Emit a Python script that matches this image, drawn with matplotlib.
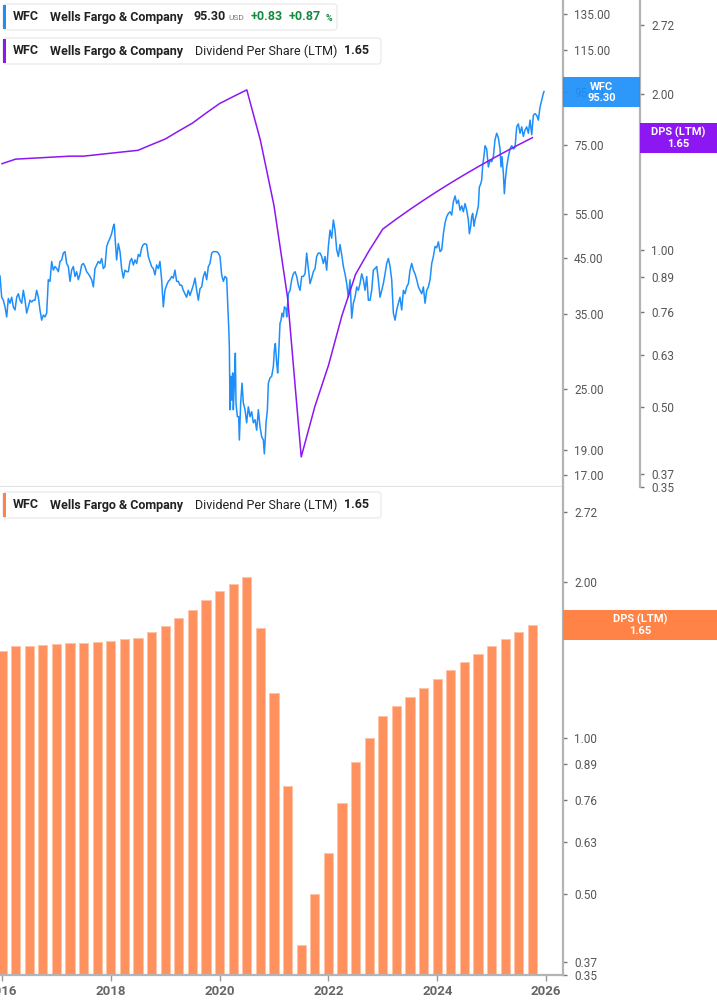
import matplotlib
matplotlib.use("Agg")
import matplotlib.pyplot as plt
from matplotlib.patches import FancyBboxPatch, Rectangle
from matplotlib.ticker import FixedLocator, FuncFormatter, NullLocator
from matplotlib.transforms import Affine2D

plt.rcParams["font.family"] = ["Roboto", "DejaVu Sans"]

# WFC daily close (adjusted)
price_dates = [
    2015.963, 2015.994, 2016.024, 2016.055, 2016.086, 2016.116, 2016.147, 2016.178, 2016.208, 2016.239,
    2016.270, 2016.300, 2016.331, 2016.362, 2016.392, 2016.423, 2016.453, 2016.484, 2016.515, 2016.545,
    2016.576, 2016.606, 2016.637, 2016.668, 2016.698, 2016.729, 2016.760, 2016.790, 2016.821, 2016.851,
    2016.882, 2016.913, 2016.943, 2016.974, 2017.005, 2017.035, 2017.066, 2017.097, 2017.127, 2017.158,
    2017.188, 2017.219, 2017.250, 2017.280, 2017.311, 2017.342, 2017.372, 2017.403, 2017.434, 2017.464,
    2017.495, 2017.525, 2017.556, 2017.587, 2017.617, 2017.648, 2017.679, 2017.709, 2017.740, 2017.770,
    2017.801, 2017.832, 2017.862, 2017.893, 2017.924, 2017.954, 2017.985, 2018.015, 2018.046, 2018.064,
    2018.083, 2018.107, 2018.138, 2018.169, 2018.199, 2018.230, 2018.260, 2018.291, 2018.322, 2018.352,
    2018.383, 2018.414, 2018.444, 2018.475, 2018.505, 2018.536, 2018.567, 2018.597, 2018.628, 2018.659,
    2018.689, 2018.720, 2018.750, 2018.781, 2018.812, 2018.842, 2018.873, 2018.903, 2018.934, 2018.965,
    2018.995, 2019.026, 2019.057, 2019.087, 2019.118, 2019.149, 2019.179, 2019.210, 2019.240, 2019.271,
    2019.302, 2019.332, 2019.363, 2019.393, 2019.424, 2019.455, 2019.486, 2019.517, 2019.548, 2019.578,
    2019.609, 2019.640, 2019.670, 2019.701, 2019.732, 2019.762, 2019.793, 2019.823, 2019.854, 2019.885,
    2019.915, 2019.946, 2019.977, 2020.007, 2020.038, 2020.069, 2020.099, 2020.130, 2020.148, 2020.167,
    2020.179, 2020.191, 2020.203, 2020.222, 2020.240, 2020.252, 2020.271, 2020.289, 2020.301, 2020.326,
    2020.350, 2020.363, 2020.387, 2020.412, 2020.436, 2020.467, 2020.497, 2020.528, 2020.559, 2020.589,
    2020.620, 2020.651, 2020.681, 2020.712, 2020.743, 2020.773, 2020.804, 2020.822, 2020.841, 2020.853,
    2020.878, 2020.896, 2020.926, 2020.957, 2020.988, 2021.006, 2021.024, 2021.049, 2021.067, 2021.086,
    2021.110, 2021.129, 2021.147, 2021.172, 2021.190, 2021.220, 2021.233, 2021.263, 2021.294, 2021.325,
    2021.355, 2021.386, 2021.417, 2021.447, 2021.478, 2021.509, 2021.539, 2021.570, 2021.600, 2021.631,
    2021.662, 2021.692, 2021.723, 2021.754, 2021.784, 2021.815, 2021.846, 2021.876, 2021.907, 2021.938,
    2021.968, 2021.999, 2022.029, 2022.060, 2022.091, 2022.121, 2022.152, 2022.183, 2022.213, 2022.244,
    2022.275, 2022.305, 2022.336, 2022.366, 2022.397, 2022.428, 2022.458, 2022.489, 2022.520, 2022.550,
    2022.581, 2022.612, 2022.642, 2022.673, 2022.704, 2022.734, 2022.765, 2022.796, 2022.826, 2022.857,
    2022.888, 2022.918, 2022.949, 2022.979, 2023.010, 2023.041, 2023.071, 2023.102, 2023.133, 2023.163,
    2023.194, 2023.225, 2023.255, 2023.286, 2023.316, 2023.347, 2023.378, 2023.408, 2023.439, 2023.470,
    2023.500, 2023.531, 2023.562, 2023.592, 2023.623, 2023.654, 2023.684, 2023.715, 2023.745, 2023.776,
    2023.807, 2023.837, 2023.868, 2023.899, 2023.929, 2023.960, 2023.991, 2024.021, 2024.052, 2024.083,
    2024.113, 2024.144, 2024.174, 2024.205, 2024.236, 2024.266, 2024.297, 2024.328, 2024.358, 2024.389,
    2024.419, 2024.450, 2024.480, 2024.511, 2024.542, 2024.572, 2024.591, 2024.615, 2024.634, 2024.652,
    2024.676, 2024.695, 2024.726, 2024.756, 2024.774, 2024.799, 2024.817, 2024.836, 2024.860, 2024.879,
    2024.909, 2024.940, 2024.971, 2025.001, 2025.032, 2025.062, 2025.093, 2025.124, 2025.154, 2025.173,
    2025.191, 2025.216, 2025.234, 2025.252, 2025.277, 2025.308, 2025.338, 2025.369, 2025.399, 2025.430,
    2025.461, 2025.491, 2025.522, 2025.553, 2025.583, 2025.614, 2025.645, 2025.675, 2025.706, 2025.737,
    2025.767, 2025.798, 2025.828, 2025.859, 2025.890, 2025.920, 2025.951, 2025.963,
]
price_values = [
    41.6, 37.8, 37.3, 36.2, 34.6, 37.6, 36.8, 37.8, 36.2, 35.7,
    37.8, 38.4, 37.3, 36.8, 39.0, 37.3, 35.2, 36.2, 37.3, 37.0,
    37.3, 37.3, 39.0, 37.8, 35.7, 34.1, 34.9, 34.6, 35.2, 40.9,
    40.6, 44.4, 42.7, 43.4, 43.0, 42.4, 44.4, 44.7, 46.1, 46.4,
    44.0, 43.4, 40.6, 42.7, 43.4, 41.5, 42.4, 40.9, 42.0, 43.7,
    44.0, 43.4, 42.4, 42.0, 41.5, 40.9, 39.6, 43.0, 43.7, 44.4,
    44.0, 45.0, 43.0, 43.4, 47.5, 48.5, 49.3, 50.3, 52.0, 52.5,
    48.5, 44.7, 48.1, 46.4, 43.0, 41.2, 42.7, 42.4, 42.4, 44.4,
    45.0, 43.7, 44.7, 44.0, 45.8, 45.4, 47.2, 47.9, 48.1, 47.9,
    45.4, 44.4, 43.4, 43.0, 41.8, 43.7, 43.0, 44.4, 40.9, 36.2,
    39.0, 39.9, 40.6, 40.9, 41.5, 41.2, 42.7, 40.6, 40.6, 39.9,
    39.9, 39.0, 38.4, 37.8, 39.0, 38.1, 39.0, 39.9, 41.2, 39.0,
    37.3, 39.3, 39.6, 41.5, 42.4, 40.9, 43.4, 44.0, 46.1, 46.4,
    46.4, 46.4, 46.1, 45.4, 41.8, 40.6, 41.5, 41.2, 36.8, 33.1,
    30.2, 22.8, 26.5, 23.8, 26.9, 22.8, 25.7, 29.4, 23.5, 22.1,
    22.1, 19.9, 23.5, 25.7, 23.5, 22.8, 21.5, 23.1, 22.1, 22.6,
    21.5, 21.8, 20.8, 22.8, 21.1, 20.2, 19.9, 18.7, 20.2, 21.5,
    22.8, 25.7, 26.3, 26.5, 27.7, 29.8, 30.7, 28.1, 26.9, 29.4,
    33.6, 34.1, 35.2, 34.6, 36.2, 35.9, 34.6, 38.4, 39.0, 40.9,
    42.0, 42.4, 41.5, 39.9, 39.0, 41.5, 41.5, 42.0, 46.1, 43.0,
    40.2, 41.2, 42.4, 43.0, 45.4, 46.1, 46.1, 45.4, 44.0, 45.4,
    42.7, 47.5, 51.1, 49.3, 53.5, 51.1, 46.8, 45.4, 47.9, 45.8,
    43.4, 42.0, 40.2, 37.8, 40.9, 34.4, 36.8, 37.8, 39.6, 39.0,
    40.2, 42.0, 40.9, 39.0, 41.5, 37.3, 37.3, 39.0, 42.7, 43.0,
    43.4, 40.9, 37.8, 39.0, 40.2, 42.0, 44.0, 45.0, 43.4, 40.9,
    35.2, 34.1, 35.7, 36.8, 37.8, 35.7, 39.0, 38.4, 39.6, 40.2,
    42.7, 44.0, 42.7, 42.0, 40.9, 39.6, 39.0, 38.4, 39.6, 36.8,
    39.0, 39.6, 40.9, 44.0, 45.4, 47.5, 47.2, 48.5, 46.4, 46.8,
    50.3, 52.8, 54.3, 55.1, 55.5, 54.7, 58.1, 59.6, 57.6, 58.5,
    55.9, 57.0, 55.5, 57.6, 55.9, 53.5, 50.3, 52.0, 54.3, 55.1,
    52.0, 53.5, 55.1, 57.0, 62.0, 62.9, 64.0, 68.5, 71.4, 74.7,
    73.6, 67.9, 70.1, 69.5, 71.1, 76.7, 79.0, 77.4, 73.6, 67.9,
    71.1, 65.9, 60.2, 64.0, 67.9, 71.1, 73.6, 74.7, 73.6, 74.1,
    81.3, 82.4, 79.0, 81.3, 77.9, 80.2, 81.3, 79.0, 83.8, 78.5,
    85.6, 86.3, 85.6, 83.8, 88.9, 91.7, 94.5, 95.3,
]

# Dividend per share, last twelve months, quarterly
dps_dates = [
    2016.00, 2016.25, 2016.50, 2016.75, 2017.00, 2017.25, 2017.50, 2017.75,
    2018.00, 2018.25, 2018.50, 2018.75, 2019.00, 2019.25, 2019.50, 2019.75,
    2020.00, 2020.25, 2020.50, 2020.75, 2021.00, 2021.25, 2021.50, 2021.75,
    2022.00, 2022.25, 2022.50, 2022.75, 2023.00, 2023.25, 2023.50, 2023.75,
    2024.00, 2024.25, 2024.50, 2024.75, 2025.00, 2025.25, 2025.50, 2025.75,
]
dps_values = [
    1.47, 1.50, 1.505, 1.51, 1.515, 1.52, 1.52, 1.53,
    1.54, 1.55, 1.56, 1.60, 1.64, 1.70, 1.76, 1.84,
    1.92, 1.98, 2.04, 1.63, 1.22, 0.81, 0.40, 0.50,
    0.60, 0.75, 0.90, 1.00, 1.10, 1.15, 1.20, 1.25,
    1.30, 1.35, 1.40, 1.45, 1.50, 1.55, 1.60, 1.65,
]

price_ticks = [17, 19, 25, 35, 45, 55, 75, 95, 115, 135]
dps_ticks = [0.35, 0.37, 0.50, 0.63, 0.76, 0.89, 1.00, 2.00, 2.72]
year_ticks = [2016, 2018, 2020, 2022, 2024, 2026]

BLUE = "#1e8ffa"
PURPLE = "#8c17f2"
ORANGE_BAR = "#ff915e"
ORANGE = "#ff8246"
GREEN = "#148a3c"
AXIS = "#b4b4b4"
TICKTXT = "#555555"

W, H = 717, 1005
fig = plt.figure(figsize=(W / 100, H / 100), dpi=100)
# pixel coords, origin at top-left
T = Affine2D().scale(1 / W, -1 / H).translate(0, 1) + fig.transFigure

XMIN, XMAX = 2015.963, 2026.312
fmt2 = FuncFormatter(lambda v, p: f"{v:.2f}")


def style_right_axis(ax, ticks, pos=None):
    ax.yaxis.tick_right()
    ax.yaxis.set_major_locator(FixedLocator(ticks))
    ax.yaxis.set_minor_locator(NullLocator())
    ax.yaxis.set_major_formatter(fmt2)
    ax.tick_params(axis="y", which="major", length=3, width=1, color="#777777",
                   pad=5, labelsize=8.5, labelcolor=TICKTXT)
    ax.spines["right"].set_visible(True)
    ax.spines["right"].set_color(AXIS)
    ax.spines["right"].set_linewidth(1.6)
    if pos is not None:
        ax.spines["right"].set_position(("axes", pos))


# ---- top panel: price + DPS line
ax_top = fig.add_axes([0, 1 - 487 / H, 563 / W, 487 / H])
ax_top.set_yscale("log")
ax_top.set_xlim(XMIN, XMAX)
ax_top.set_ylim(16.11, 143.8)
ax_top.plot(price_dates, price_values, color=BLUE, lw=1.1)

ax_dps = ax_top.twinx()
ax_dps.set_yscale("log")
ax_dps.set_xlim(XMIN, XMAX)
ax_dps.set_ylim(0.35, 3.04)
ax_dps.plot(dps_dates, dps_values, color=PURPLE, lw=1.1)
for s in ["left", "top", "bottom"]:
    ax_dps.spines[s].set_visible(False)
style_right_axis(ax_dps, dps_ticks, pos=640 / 563)
ax_dps.patch.set_visible(False)

# twinx moves the host ticks to the left, so style it afterwards
for s in ["left", "top"]:
    ax_top.spines[s].set_visible(False)
ax_top.spines["bottom"].set_color("#e2e2e2")
ax_top.spines["bottom"].set_linewidth(1.6)
ax_top.set_xticks([])
style_right_axis(ax_top, price_ticks)

# ---- bottom panel: DPS bars
ax_bot = fig.add_axes([0, 1 - 975 / H, 563 / W, 488 / H])
ax_bot.set_yscale("log")
ax_bot.set_xlim(XMIN, XMAX)
ax_bot.set_ylim(0.35, 3.04)
base = 0.3
ax_bot.bar(dps_dates, [v - base for v in dps_values], bottom=base, width=0.17,
           color=ORANGE_BAR, edgecolor="#ffc3a6", linewidth=0.7)
for s in ["left", "top"]:
    ax_bot.spines[s].set_visible(False)
ax_bot.spines["bottom"].set_color(AXIS)
ax_bot.spines["bottom"].set_linewidth(1.6)
style_right_axis(ax_bot, dps_ticks)
ax_bot.set_xticks(year_ticks)
ax_bot.set_xticklabels([str(y) for y in year_ticks], fontweight="bold")
ax_bot.tick_params(axis="x", length=4, width=1, color="#999999", pad=3,
                   labelsize=9.5, labelcolor="#666666")


# ---- header boxes
def header_box(y0, x1, color):
    fig.add_artist(FancyBboxPatch((3, y0), x1 - 3, 26, boxstyle="round,pad=0,rounding_size=3",
                                  transform=T, fc="white", ec="#e6e6e6", lw=0.8, zorder=5))
    fig.add_artist(Rectangle((3, y0 + 1), 3, 24, transform=T, fc=color, ec="none", zorder=6))


def txt(x, y, s, **kw):
    kw.setdefault("color", "#222222")
    kw.setdefault("fontsize", 9)
    fig.text(x, y, s, transform=T, va="center", ha=kw.pop("ha", "left"), zorder=7, **kw)


header_box(4, 337, BLUE)
txt(13, 17, "WFC", fontweight="bold")
txt(50, 17, "Wells Fargo & Company", fontweight="bold")
txt(194, 17, "95.30", fontweight="bold")
txt(228, 18.5, "USD", fontsize=6, color="#777777")
txt(251, 17, "+0.83", fontweight="bold", color=GREEN)
txt(289, 17, "+0.87", fontweight="bold", color=GREEN)
txt(326, 18.5, "%", fontsize=6.5, fontweight="bold", color=GREEN)

for y0, color in [(38, PURPLE), (492, ORANGE)]:
    header_box(y0, 381, color)
    yc = y0 + 13
    txt(13, yc, "WFC", fontweight="bold")
    txt(50, yc, "Wells Fargo & Company", fontweight="bold")
    txt(195, yc, "Dividend Per Share (LTM)")
    txt(344, yc, "1.65", fontweight="bold")


# ---- last value tags on the axes
def tag(x0, x1, y0, y1, color, l1, l2, alpha=1.0):
    fig.add_artist(Rectangle((x0, y0), x1 - x0, y1 - y0, transform=T, fc=color, ec="none",
                             alpha=alpha, zorder=5))
    xc = (x0 + x1) / 2
    txt(xc, y0 + 9.5, l1, ha="center", color="white", fontweight="bold", fontsize=8)
    txt(xc, y0 + 21, l2, ha="center", color="white", fontweight="bold", fontsize=8)


tag(563, 640, 77, 107, BLUE, "WFC", "95.30", alpha=0.93)
tag(640, 717, 123, 153, PURPLE, "DPS (LTM)", "1.65")
tag(563, 717, 610, 640, ORANGE, "DPS (LTM)", "1.65")

fig.savefig("out.png", dpi=100)
